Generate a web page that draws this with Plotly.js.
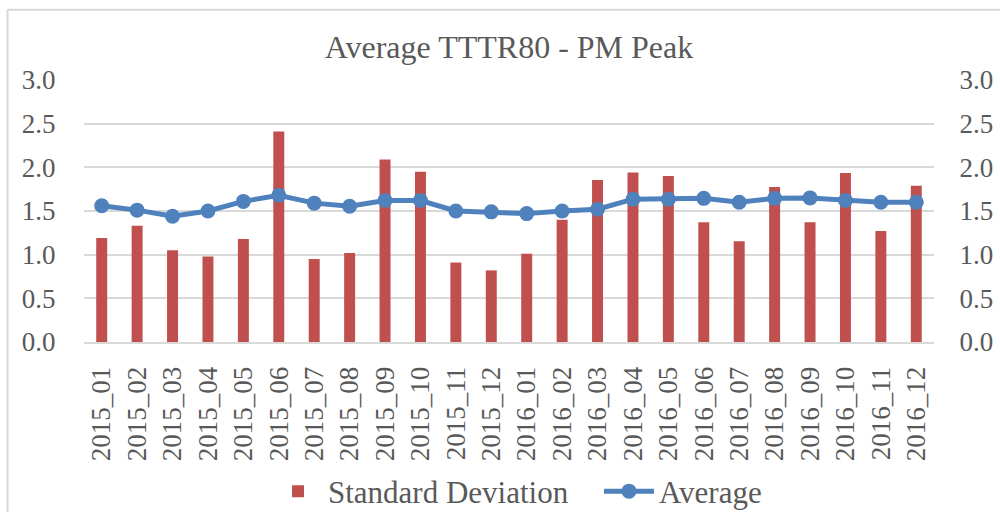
<!DOCTYPE html>
<html>
<head>
<meta charset="utf-8">
<script src="https://cdn.plot.ly/plotly-3.0.1.min.js"></script>
<style>
  html, body { margin: 0; padding: 0; background: #ffffff; }
  #chart { width: 1000px; height: 512px; }
</style>
</head>
<body>
<div id="chart"></div>
<script>
const months = ["2015_01","2015_02","2015_03","2015_04","2015_05","2015_06","2015_07","2015_08","2015_09","2015_10","2015_11","2015_12",
                "2016_01","2016_02","2016_03","2016_04","2016_05","2016_06","2016_07","2016_08","2016_09","2016_10","2016_11","2016_12"];
const stdDev = [1.19,1.33,1.05,0.98,1.18,2.41,0.95,1.02,2.09,1.95,0.91,0.82,
                1.01,1.40,1.855,1.94,1.90,1.37,1.155,1.775,1.37,1.935,1.27,1.79];
const average = [1.56,1.51,1.44,1.50,1.61,1.68,1.59,1.555,1.62,1.62,1.50,1.49,
                 1.47,1.50,1.52,1.635,1.635,1.645,1.60,1.645,1.65,1.62,1.60,1.60];
const yTicks = [0,0.5,1.0,1.5,2.0,2.5,3.0];

const FONT = "'Liberation Serif', 'DejaVu Serif', serif";
const TXT = "#595959";
const GRID = "#d9d9d9";

const traces = [
  {
    type: "bar", name: "Standard Deviation", x: months, y: stdDev,
    marker: { color: "#C0504D" }, width: 0.31, yaxis: "y"
  },
  {
    type: "scatter", mode: "lines+markers", name: "Average", x: months, y: average,
    line: { color: "#4F81BD", width: 5 },
    marker: { color: "#4F81BD", size: 15 }, yaxis: "y2"
  }
];

const layout = {
  width: 1000, height: 512,
  margin: { l: 84, r: 66, t: 80, b: 170 },
  paper_bgcolor: "#ffffff", plot_bgcolor: "#ffffff",
  font: { family: FONT, color: TXT, size: 27 },
  title: { text: "Average TTTR80 - PM Peak", font: { family: FONT, size: 32, color: TXT },
           x: 0.509, xanchor: "center", y: 0.908, yanchor: "middle", xref: "container", yref: "container" },
  showlegend: true,
  legend: { orientation: "h", xref: "container", yref: "container", x: 0.268, xanchor: "left",
            y: 0.04, yanchor: "middle", font: { family: FONT, size: 31, color: TXT }, itemwidth: 50,
            entrywidth: 266, entrywidthmode: "pixels", traceorder: "normal" },
  xaxis: {
    type: "category", range: [-0.5, months.length - 0.5], tickangle: -90, showgrid: false, zeroline: false,
    showline: true, linecolor: GRID, linewidth: 2,
    ticks: "outside", ticklen: 12, tickcolor: "rgba(0,0,0,0)",
    tickfont: { family: FONT, size: 27, color: TXT }
  },
  yaxis: {
    range: [0, 3], tickvals: yTicks, tickformat: ".1f",
    showgrid: true, gridcolor: GRID, gridwidth: 2, zeroline: false,
    ticks: "outside", ticklen: 22, tickcolor: "rgba(0,0,0,0)",
    tickfont: { family: FONT, size: 27, color: TXT }, fixedrange: true
  },
  yaxis2: {
    range: [0, 3], tickvals: yTicks, tickformat: ".1f", overlaying: "y", side: "right",
    showgrid: false, zeroline: false,
    ticks: "outside", ticklen: 19, tickcolor: "rgba(0,0,0,0)",
    tickfont: { family: FONT, size: 27, color: TXT }
  },
  shapes: [
    { type: "line", xref: "paper", yref: "paper", x0: -0.09, x1: -0.09, y0: -0.7, y1: 1.268,
      line: { color: GRID, width: 2 } },
    { type: "line", xref: "paper", yref: "paper", x0: -0.09, x1: 1.1, y0: 1.268, y1: 1.268,
      line: { color: GRID, width: 2 } }
  ]
};

Plotly.newPlot("chart", traces, layout, { displayModeBar: false, staticPlot: true });
</script>
</body>
</html>
